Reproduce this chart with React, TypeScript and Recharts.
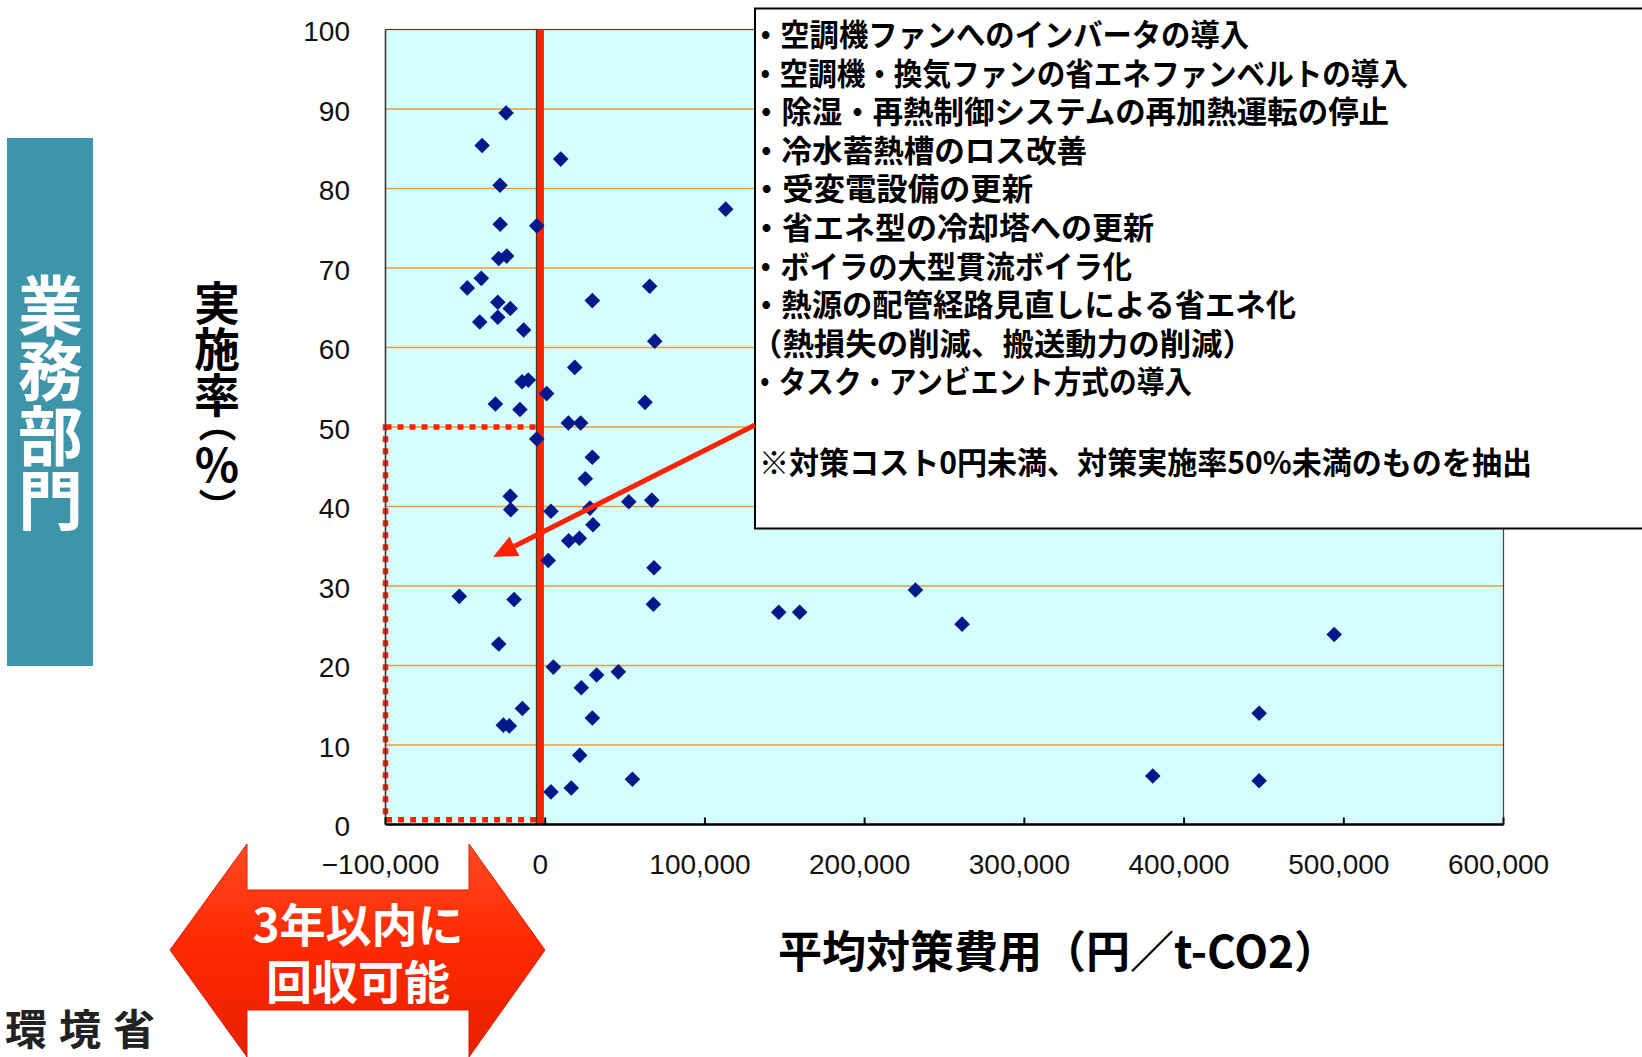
import React from 'react';
import {
  ScatterChart,
  Scatter,
  XAxis,
  YAxis,
  CartesianGrid,
  ReferenceLine,
  ReferenceArea,
} from 'recharts';

// ---- data ----
const costs = [
  -24500, -39500, 9700, -28300, 113000, -28200, -5300, -29100, -24100, -40000,
  -48800, 65400, -29700, 29500, -21900, -29700, -41000, -13500, 68600, 18500,
  -14500, -10600, 900, -31200, -15800, 62500, 14500, 22200, -5300, 29500,
  25100, -21900, -21600, 3600, 28000, 52300, 66700, 29900, 14700, 21400,
  1900, 68100, -53800, -19500, 67700, 146200, 159300, 231800, 261000, 494000,
  -29100, 5100, 45800, 32200, 22600, -14300, 447000, -26200, -22500, 29500,
  21600, 380400, 447000, 54600, 16300, 3600,
];
const rates = [
  89.5, 85.4, 83.7, 80.4, 77.4, 75.5, 75.3, 71.2, 71.5, 68.7,
  67.5, 67.7, 65.7, 65.9, 64.9, 63.8, 63.2, 62.2, 60.8, 57.5,
  55.7, 55.9, 54.2, 52.9, 52.2, 53.1, 50.5, 50.5, 48.5, 46.2,
  43.5, 41.3, 39.6, 39.4, 39.8, 40.6, 40.8, 37.7, 35.7, 36.0,
  33.2, 32.3, 28.7, 28.3, 27.7, 26.7, 26.7, 29.5, 25.2, 23.9,
  22.7, 19.8, 19.2, 18.8, 17.2, 14.6, 14.0, 12.5, 12.4, 13.4,
  8.7, 6.1, 5.5, 5.7, 4.6, 4.1,
];
const xTicks = [-100000, 0, 100000, 200000, 300000, 400000, 500000, 600000];
const yTicks = [0, 10, 20, 30, 40, 50, 60, 70, 80, 90, 100];
const xDomain = [-100000, 600000];
const yDomain = [0, 100];

const thresholdCost = -3000; // red vertical line
const axisCross = -5400; // thin dark line beside it
const boxRate = 50; // dotted box top

const measures = [
  '・空調機ファンへのインバータの導入',
  '・空調機・換気ファンの省エネファンベルトの導入',
  '・除湿・再熱制御システムの再加熱運転の停止',
  '・冷水蓄熱槽のロス改善',
  '・受変電設備の更新',
  '・省エネ型の冷却塔への更新',
  '・ボイラの大型貫流ボイラ化',
  '・熱源の配管経路見直しによる省エネ化',
  '（熱損失の削減、搬送動力の削減）',
  '・タスク・アンビエント方式の導入',
];
const measureEnds = [1249, 1408, 1389, 1087, 1033, 1154, 1132, 1296, 1254, 1192];
const note = '※対策コスト0円未満、対策実施率50%未満のものを抽出';
const noteEnd = 1532;
const payback = ['3年以内に', '回収可能'];
const sectorLabel = '業務部門';
const yTitleMain = '実施率';
const yTitleUnit = ['（', '%', '）'];
const xTitle = '平均対策費用（円／t-CO2）';
const ministry = '環境省';

const points = costs.map((c, i) => ({ x: c, y: rates[i] }));

// ---- layout ----
const W = 1642;
const H = 1057;
const PLOT_L = 385.5;
const PLOT_R = 1503.5;
const PLOT_T = 29.5;
const PLOT_B = 824.5;
const YAXIS_W = 80;
const XAXIS_H = 60;

const JP = '"Noto Sans CJK JP", "Noto Sans", sans-serif';
const NUM = '"Liberation Sans", Arial, sans-serif';
const RED = '#FF2200';

const fmt = (v: number) => {
  const s = Math.abs(v).toString().replace(/\B(?=(\d{3})+(?!\d))/g, ',');
  return v < 0 ? '\u2212' + s : s;
};

const Diamond = (props: any) => {
  const { cx, cy } = props;
  if (cx == null || cy == null) return null;
  const r = 7.8;
  return (
    <polygon
      points={`${cx},${cy - r} ${cx + r},${cy} ${cx},${cy + r} ${cx - r},${cy}`}
      fill="#001A8C"
    />
  );
};

const YTick = (props: any) => {
  const { x, y, payload } = props;
  return (
    <text
      x={x - 35.5}
      y={y + 2}
      textAnchor="end"
      dominantBaseline="central"
      fontFamily={NUM}
      fontSize={28}
      fill="#111"
    >
      {payload.value}
    </text>
  );
};

const XTick = (props: any) => {
  const { x, y, payload } = props;
  return (
    <g>
      <line x1={x} x2={x} y1={y} y2={y - 7} stroke="#000" strokeWidth={2} />
      <text
        x={x - 5}
        y={y + 39.5}
        textAnchor="middle"
        dominantBaseline="central"
        fontFamily={NUM}
        fontSize={28}
        fill="#111"
      >
        {fmt(payload.value)}
      </text>
    </g>
  );
};

// arrow from note box to dotted region
const arrowFrom = { x: 755, y: 425 };
const arrowTip = { x: 493, y: 557 };
const arrowGeom = () => {
  const dx = arrowTip.x - arrowFrom.x;
  const dy = arrowTip.y - arrowFrom.y;
  const len = Math.hypot(dx, dy);
  const ux = dx / len;
  const uy = dy / len;
  const hl = 24;
  const hw = 11;
  const bx = arrowTip.x - ux * hl;
  const by = arrowTip.y - uy * hl;
  const nx = -uy;
  const ny = ux;
  return {
    bx,
    by,
    head: `${arrowTip.x},${arrowTip.y} ${bx + nx * hw},${by + ny * hw} ${bx - nx * hw},${by - ny * hw}`,
  };
};

export default function App() {
  const ag = arrowGeom();
  const lineY0 = 32.5;
  const lineStep = 38.6;
  return (
    <div style={{ position: 'absolute', left: 0, top: 0, width: W, height: H, background: '#fff', overflow: 'hidden', fontFamily: JP }}>
      <div style={{ position: 'absolute', left: 0, top: 0 }}>
        <ScatterChart
          width={W}
          height={H}
          margin={{
            top: PLOT_T,
            right: W - PLOT_R,
            bottom: H - PLOT_B - XAXIS_H,
            left: PLOT_L - YAXIS_W,
          }}
        >
          <CartesianGrid
            horizontal
            vertical={false}
            fill="#D4FFFF"
            fillOpacity={1}
            stroke="#F39A3A"
            strokeWidth={1.3}
            strokeDasharray=""
          />
          <XAxis
            type="number"
            dataKey="x"
            domain={xDomain}
            ticks={xTicks}
            interval={0}
            height={XAXIS_H}
            tickLine={false}
            tickSize={0}
            tickMargin={0}
            axisLine={{ stroke: '#000', strokeWidth: 2.5 }}
            tick={<XTick />}
            allowDataOverflow
          />
          <YAxis
            type="number"
            dataKey="y"
            domain={yDomain}
            ticks={yTicks}
            interval={0}
            width={YAXIS_W}
            tickLine={false}
            tickSize={0}
            tickMargin={0}
            axisLine={{ stroke: '#3a3a3a', strokeWidth: 1.5 }}
            tick={<YTick />}
            allowDataOverflow
          />
          <ReferenceArea
            x1={xDomain[0]}
            x2={xDomain[1]}
            y1={yDomain[0]}
            y2={yDomain[1]}
            fill="none"
            fillOpacity={0}
            stroke="#444"
            strokeWidth={1.2}
            ifOverflow="visible"
          />
          <Scatter data={points} shape={<Diamond />} isAnimationActive={false} />
          <ReferenceArea
            x1={xDomain[0]}
            x2={thresholdCost}
            y1={0.6}
            y2={boxRate}
            fill="none"
            fillOpacity={0}
            stroke={RED}
            strokeWidth={5.5}
            strokeDasharray="6 6"
            ifOverflow="visible"
          />
          <ReferenceLine x={axisCross} stroke="#333" strokeWidth={1.5} />
          <ReferenceLine x={thresholdCost} stroke={RED} strokeWidth={7} />
        </ScatterChart>
      </div>

      <svg
        width={W}
        height={H}
        style={{ position: 'absolute', left: 0, top: 0, pointerEvents: 'none' }}
      >
        <defs>
          <linearGradient id="arrowFill" x1="0" y1="0" x2="0" y2="1">
            <stop offset="0%" stopColor="#FF4A26" />
            <stop offset="45%" stopColor="#FF2A00" />
            <stop offset="100%" stopColor="#E82000" />
          </linearGradient>
        </defs>

        {/* sector label box */}
        <rect x={7} y={138} width={86} height={528} fill="#3E95AA" />

        {/* note box */}
        <rect x={755} y={8.5} width={W} height={520} fill="#fff" stroke="#000" strokeWidth={2} />
        {measures.map((m, i) => (
          <text
            key={i}
            x={751}
            y={lineY0 + i * lineStep}
            fontFamily={JP}
            fontWeight={600}
            fontSize={31}
            dominantBaseline="central"
            textLength={measureEnds[i] - 751}
            lengthAdjust="spacingAndGlyphs"
            fill="#000"
          >
            {m}
          </text>
        ))}
        <text
          x={759}
          y={460.8}
          fontFamily={JP}
          fontWeight={600}
          fontSize={31}
          dominantBaseline="central"
          textLength={noteEnd - 759}
          lengthAdjust="spacingAndGlyphs"
          fill="#000"
        >
          {note}
        </text>

        {/* red arrow to target region */}
        <line x1={arrowFrom.x} y1={arrowFrom.y} x2={ag.bx} y2={ag.by} stroke={RED} strokeWidth={5} />
        <polygon points={ag.head} fill={RED} />

        {/* payback double arrow */}
        <polygon
          points="170,950 247,844 247,890 469,890 469,844 545,950 469,1057 469,1010 247,1010 247,1057"
          fill="url(#arrowFill)"
          stroke="#D81E00"
          strokeWidth={1}
        />
        {payback.map((t, i) => (
          <text
            key={i}
            x={358}
            y={922 + i * 57}
            textAnchor="middle"
            dominantBaseline="central"
            fontFamily={JP}
            fontWeight={700}
            fontSize={46}
            fill="#fff"
          >
            {t}
          </text>
        ))}

        {/* x axis title */}
        <text
          x={1058}
          y={949}
          textAnchor="middle"
          dominantBaseline="central"
          fontFamily={JP}
          fontWeight={700}
          fontSize={44}
          fill="#000"
        >
          {xTitle}
        </text>

        {/* ministry */}
        <text
          x={5}
          y={1045}
          fontFamily={JP}
          fontWeight={600}
          fontSize={42}
          letterSpacing={12}
          fill="#222"
        >
          {ministry}
        </text>
      </svg>

      {/* vertical labels */}
      <div
        style={{
          position: 'absolute',
          left: 50,
          top: 273,
          transform: 'translateX(-50%)',
          writingMode: 'vertical-rl',
          fontFamily: JP,
          fontWeight: 700,
          fontSize: 65,
          lineHeight: 1,
          color: '#fff',
          whiteSpace: 'nowrap',
        }}
      >
        {sectorLabel}
      </div>
      <div
        style={{
          position: 'absolute',
          left: 217,
          top: 280,
          transform: 'translateX(-50%)',
          writingMode: 'vertical-rl',
          textOrientation: 'upright',
          fontFamily: JP,
          fontWeight: 700,
          fontSize: 46,
          lineHeight: 1,
          color: '#000',
          whiteSpace: 'nowrap',
        }}
      >
        {yTitleMain}
        <span style={{ fontSize: 38, marginTop: -14 }}>{yTitleUnit[0]}</span>
        <span style={{ fontSize: 46 }}>{yTitleUnit[1]}</span>
        <span style={{ fontSize: 38 }}>{yTitleUnit[2]}</span>
      </div>
    </div>
  );
}
